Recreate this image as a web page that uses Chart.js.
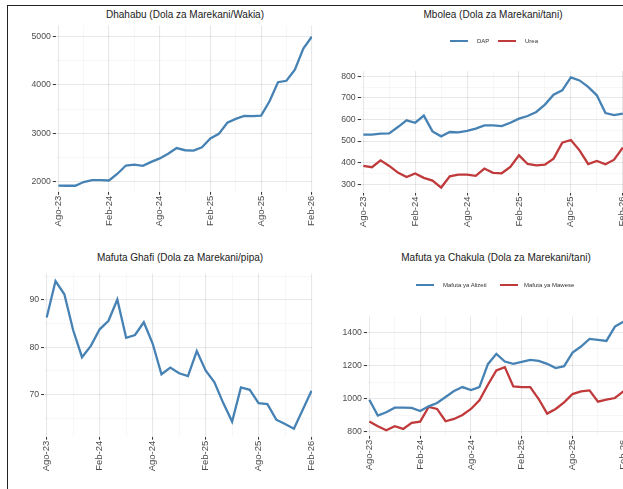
<!DOCTYPE html>
<html>
<head>
<meta charset="utf-8">
<script src="https://cdn.jsdelivr.net/npm/chart.js@4.4.0/dist/chart.umd.min.js"></script>
<style>
  html, body { margin: 0; padding: 0; background: #fff; overflow: hidden; }
  #page { position: relative; width: 623px; height: 489px; overflow: hidden; background: #fff;
          font-family: 'Liberation Sans', Arial, sans-serif; }
  .frame { position: absolute; background: #222; }
  .title { position: absolute; width: 320px; text-align: center; font-size: 10px; line-height: 12px;
           color: #1a1a1a; white-space: nowrap; }
  .key-line { position: absolute; height: 2px; }
  .key-text { position: absolute; font-size: 6px; line-height: 8px; color: #333; white-space: nowrap; }
  canvas { position: absolute; }
</style>
</head>
<body>
<div id="page">
  <div class="frame" style="left:7px;top:5px;width:616px;height:1px"></div>
  <div class="frame" style="left:7px;top:5px;width:1px;height:484px"></div>

  <div class="title" style="left:25px;top:9px">Dhahabu (Dola za Marekani/Wakia)</div>
  <div class="title" style="left:333px;top:9px">Mbolea (Dola za Marekani/tani)</div>
  <div class="title" style="left:20px;top:252px">Mafuta Ghafi (Dola za Marekani/pipa)</div>
  <div class="title" style="left:336px;top:252px">Mafuta ya Chakula (Dola za Marekani/tani)</div>

  <canvas id="gold" width="310" height="225" style="left:10px;top:20px"></canvas>
  <canvas id="fert" width="340" height="185" style="left:315px;top:60px"></canvas>
  <canvas id="crude" width="315" height="224" style="left:5px;top:265px"></canvas>
  <canvas id="vegoil" width="340" height="184" style="left:315px;top:305px"></canvas>
</div>
<script>
// monthly series, Ago-23 .. Feb-26
const months = ['Ago-23','Sep-23','Okt-23','Nov-23','Des-23','Jan-24','Feb-24','Mac-24','Apr-24','Mei-24',
  'Jun-24','Jul-24','Ago-24','Sep-24','Okt-24','Nov-24','Des-24','Jan-25','Feb-25','Mac-25','Apr-25',
  'Mei-25','Jun-25','Jul-25','Ago-25','Sep-25','Okt-25','Nov-25','Des-25','Jan-26','Feb-26'];

const goldPrice = [1918,1916,1916,1993,2032,2034,2025,2165,2335,2352,2328,2410,2482,2578,2695,2651,2645,2712,2895,2990,
  3220,3300,3360,3355,3368,3665,4058,4088,4320,4755,5000];

const dapPrice = [530,530,535,536,565,596,585,618,545,522,542,540,547,558,573,573,569,585,604,616,
  635,669,715,735,795,781,751,712,630,620,627];
const ureaPrice = [385,379,411,385,354,334,350,330,317,285,337,345,345,339,373,353,351,380,434,394,
  388,391,419,493,505,457,394,408,393,414,470];

const crudeOil = [86.3,94.0,91.2,83.6,77.9,80.3,83.8,85.6,90.1,82.0,82.6,85.3,80.8,74.3,75.7,74.5,73.9,79.2,75.1,72.6,
  68.2,64.3,71.5,71.0,68.2,68.0,64.7,63.8,62.8,66.8,70.8];

const sunflowerOil = [994,898,918,946,946,944,926,954,974,1010,1046,1070,1052,1070,1208,1270,1224,1210,1222,1234,
  1228,1210,1184,1196,1278,1314,1360,1354,1348,1434,1464];
const palmOil = [862,834,810,834,818,854,862,950,938,864,878,902,938,990,1084,1170,1190,1074,1070,1070,
  998,910,938,978,1028,1044,1050,982,994,1004,1044];

const fertNames = ['DAP', 'Urea'];
const vegNames = ['Mafuta ya Alizeti', 'Mafuta ya Mawese'];

const goldTicks = [2000, 3000, 4000, 5000];
const fertTicks = [300, 400, 500, 600, 700, 800];
const crudeTicks = [70, 80, 90];
const vegTicks = [800, 1000, 1200, 1400];

const BLUE = '#4682b4';
const RED = '#c0393b';
const FONT = "'Liberation Sans', Arial, sans-serif";

const xIdx = months.map((m, i) => i).filter(i => i % 3 === 0);

function drawPanel(id, series, yMin, yMax, yBreaks, yWidth, pad) {
  const half = (yBreaks[1] - yBreaks[0]) / 2;
  const yAll = [];
  for (let v = yBreaks[0] - half; v <= yMax; v += half) {
    if (v >= yMin) yAll.push(v);
  }
  const isMajorY = v => yBreaks.includes(v);
  const isMajorX = v => v % 6 === 0;

  return new Chart(document.getElementById(id), {
    type: 'line',
    data: {
      datasets: series.map(s => ({
        label: s.label,
        data: s.values.map((v, i) => ({ x: i, y: v })),
        borderColor: s.color,
        borderWidth: 2.3,
        pointRadius: 0,
        tension: 0,
        fill: false
      }))
    },
    options: {
      responsive: false,
      animation: false,
      layout: { padding: pad },
      plugins: { legend: { display: false }, title: { display: false }, tooltip: { enabled: false } },
      scales: {
        x: {
          type: 'linear',
          min: -0.3,
          max: 30.05,
          afterBuildTicks: s => { s.ticks = xIdx.map(v => ({ value: v })); },
          afterFit: s => { s.height = 45; s.paddingLeft = 0; s.paddingRight = 0; },
          border: { display: false },
          grid: {
            color: c => isMajorX(c.tick.value) ? 'rgba(0,0,0,0.09)' : 'rgba(0,0,0,0.045)',
            lineWidth: c => isMajorX(c.tick.value) ? 1.1 : 0.8,
            tickColor: c => isMajorX(c.tick.value) ? '#333' : 'rgba(0,0,0,0)',
            tickLength: 3,
            tickWidth: 1
          },
          ticks: {
            autoSkip: false,
            maxRotation: 90,
            minRotation: 90,
            padding: 1,
            color: '#4d4d4d',
            font: { family: FONT, size: 9.5 },
            callback: v => isMajorX(v) ? months[v] : ''
          }
        },
        y: {
          min: yMin,
          max: yMax,
          afterBuildTicks: s => { s.ticks = yAll.map(v => ({ value: v })); },
          afterFit: s => { s.width = yWidth; s.paddingTop = 0; s.paddingBottom = 0; },
          border: { display: false },
          grid: {
            color: c => isMajorY(c.tick.value) ? 'rgba(0,0,0,0.09)' : 'rgba(0,0,0,0.045)',
            lineWidth: c => isMajorY(c.tick.value) ? 1.1 : 0.8,
            tickColor: c => isMajorY(c.tick.value) ? '#333' : 'rgba(0,0,0,0)',
            tickLength: 3,
            tickWidth: 1
          },
          ticks: {
            autoSkip: false,
            padding: 2,
            color: '#4d4d4d',
            font: { family: FONT, size: 8.7 },
            callback: v => isMajorY(v) ? String(v) : ''
          }
        }
      }
    }
  });
}

// small horizontal keys above the two-series panels
function addKey(names, colors, lineX, textX, y) {
  const page = document.getElementById('page');
  names.forEach((name, i) => {
    const line = document.createElement('div');
    line.className = 'key-line';
    line.style.cssText = `left:${lineX[i]}px;top:${y - 1}px;width:18px;background:${colors[i]}`;
    page.appendChild(line);
    const txt = document.createElement('div');
    txt.className = 'key-text';
    txt.style.cssText = `left:${textX[i]}px;top:${y - 4}px`;
    txt.textContent = name;
    page.appendChild(txt);
  });
}

drawPanel('gold', [{ label: 'Dhahabu', values: goldPrice, color: BLUE }],
  1791, 5230, goldTicks, 40, { left: 5.8, top: 5.6, right: 7.8, bottom: 8.2 });

drawPanel('fert', [
    { label: fertNames[0], values: dapPrice, color: BLUE },
    { label: fertNames[1], values: ureaPrice, color: RED }
  ], 262, 825, fertTicks, 40, { left: 5.7, top: 10.9, right: 31.8, bottom: 7.5 });

drawPanel('crude', [{ label: 'Mafuta Ghafi', values: crudeOil, color: BLUE }],
  61.1, 95.6, crudeTicks, 34, { left: 5.05, top: 8.5, right: 8, bottom: 7.3 });

drawPanel('vegoil', [
    { label: vegNames[0], values: sunflowerOil, color: BLUE },
    { label: vegNames[1], values: palmOil, color: RED }
  ], 777, 1495, vegTicks, 46, { left: 5.8, top: 11.5, right: 31.2, bottom: 8.3 });

addKey(fertNames, [BLUE, RED], [450, 498], [477, 525], 41);
addKey(vegNames, [BLUE, RED], [416, 500], [443, 524], 285);
</script>
</body>
</html>
